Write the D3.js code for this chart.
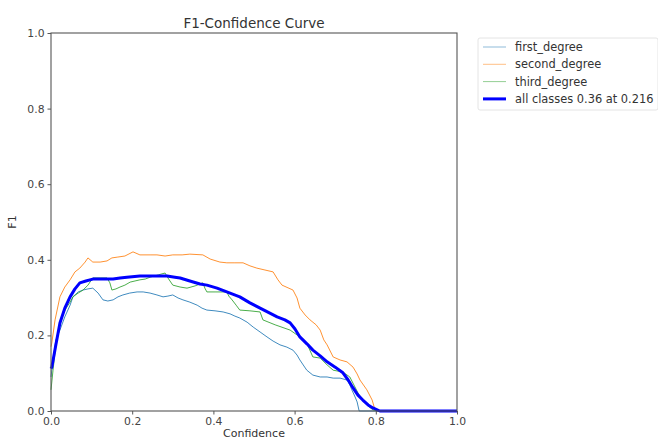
<!DOCTYPE html>
<html>
<head>
<meta charset="utf-8">
<script src="https://cdn.jsdelivr.net/npm/d3@7"></script>
<style>
  html, body { margin: 0; padding: 0; background: #fff; }
  svg { display: block; font-family: "DejaVu Sans", sans-serif; }
</style>
</head>
<body>
<svg id="chart" width="658" height="441"></svg>
<script>
// ---- Data ----
const seriesNames = ["first_degree", "second_degree", "third_degree"];
const allLabel = "all classes 0.36 at 0.216";
const xTicks = [0.0, 0.2, 0.4, 0.6, 0.8, 1.0];
const yTicks = [0.0, 0.2, 0.4, 0.6, 0.8, 1.0];

const firstX = [0, 0.005, 0.012, 0.022, 0.034, 0.047, 0.054, 0.067, 0.079, 0.091,
  0.103, 0.116, 0.128, 0.140, 0.153, 0.165, 0.177, 0.194, 0.212, 0.227,
  0.244, 0.261, 0.276, 0.288, 0.300, 0.313, 0.325, 0.342, 0.360, 0.372,
  0.384, 0.404, 0.424, 0.441, 0.453, 0.465, 0.483, 0.498, 0.515, 0.532,
  0.547, 0.564, 0.581, 0.596, 0.606, 0.613, 0.623, 0.630, 0.645, 0.663,
  0.680, 0.695, 0.712, 0.729, 0.736, 0.741, 0.749, 0.754, 0.759, 1.0];
const firstY = [0.090, 0.135, 0.188, 0.214, 0.249, 0.280, 0.302, 0.315, 0.320, 0.323,
  0.325, 0.312, 0.294, 0.291, 0.294, 0.302, 0.307, 0.312, 0.315, 0.315,
  0.312, 0.307, 0.302, 0.304, 0.307, 0.299, 0.294, 0.288, 0.280, 0.272,
  0.267, 0.265, 0.262, 0.257, 0.251, 0.246, 0.235, 0.222, 0.209, 0.196,
  0.185, 0.175, 0.169, 0.161, 0.148, 0.135, 0.119, 0.108, 0.095, 0.090,
  0.090, 0.087, 0.087, 0.082, 0.069, 0.056, 0.037, 0.024, 0.0, 0.0];

const secondX = [0.0, 0.002, 0.010, 0.022, 0.034, 0.047, 0.059, 0.071, 0.084, 0.091,
  0.103, 0.121, 0.138, 0.150, 0.163, 0.182, 0.202, 0.219, 0.244, 0.261,
  0.281, 0.300, 0.323, 0.342, 0.374, 0.392, 0.416, 0.433, 0.453, 0.473,
  0.490, 0.507, 0.527, 0.547, 0.559, 0.569, 0.596, 0.606, 0.613, 0.626,
  0.638, 0.653, 0.663, 0.672, 0.680, 0.695, 0.712, 0.729, 0.744, 0.754,
  0.761, 0.778, 0.791, 0.798, 0.810, 1.0];
const secondY = [0.170, 0.180, 0.241, 0.302, 0.328, 0.347, 0.368, 0.378, 0.394, 0.405,
  0.394, 0.394, 0.397, 0.405, 0.407, 0.410, 0.421, 0.413, 0.413, 0.413,
  0.410, 0.413, 0.413, 0.415, 0.413, 0.402, 0.394, 0.392, 0.392, 0.392,
  0.384, 0.378, 0.373, 0.368, 0.347, 0.333, 0.320, 0.299, 0.272, 0.254,
  0.241, 0.228, 0.214, 0.188, 0.175, 0.143, 0.135, 0.130, 0.116, 0.098,
  0.082, 0.056, 0.029, 0.003, 0.0, 0.0];

const thirdX = [0, 0.005, 0.012, 0.022, 0.032, 0.039, 0.047, 0.054, 0.067, 0.079,
  0.091, 0.103, 0.121, 0.138, 0.145, 0.150, 0.160, 0.170, 0.182, 0.195,
  0.207, 0.219, 0.232, 0.244, 0.264, 0.281, 0.288, 0.300, 0.318, 0.335,
  0.355, 0.374, 0.379, 0.384, 0.404, 0.433, 0.438, 0.446, 0.456, 0.465,
  0.490, 0.515, 0.522, 0.552, 0.589, 0.613, 0.631, 0.645, 0.663, 0.680,
  0.695, 0.719, 0.736, 0.746, 0.756, 0.768, 0.781, 0.793, 0.805, 1.0];
const thirdY = [0.056, 0.108, 0.175, 0.233, 0.262, 0.275, 0.288, 0.302, 0.312, 0.320,
  0.333, 0.352, 0.352, 0.352, 0.339, 0.320, 0.323, 0.328, 0.333, 0.341,
  0.344, 0.347, 0.349, 0.354, 0.360, 0.365, 0.352, 0.333, 0.328, 0.325,
  0.331, 0.339, 0.325, 0.315, 0.315, 0.315, 0.304, 0.294, 0.280, 0.267,
  0.265, 0.262, 0.241, 0.228, 0.214, 0.196, 0.177, 0.143, 0.140, 0.122,
  0.108, 0.103, 0.090, 0.069, 0.048, 0.029, 0.013, 0.003, 0.0, 0.0];

const allX = [0, 0.002, 0.012, 0.022, 0.034, 0.047, 0.059, 0.071, 0.086, 0.103,
  0.128, 0.153, 0.170, 0.187, 0.219, 0.256, 0.286, 0.305, 0.318, 0.342,
  0.367, 0.384, 0.409, 0.433, 0.465, 0.490, 0.515, 0.539, 0.557, 0.576,
  0.589, 0.601, 0.613, 0.631, 0.645, 0.663, 0.680, 0.700, 0.719, 0.732,
  0.744, 0.756, 0.768, 0.781, 0.793, 0.810, 1.0];
const allY = [0.112, 0.116, 0.175, 0.233, 0.272, 0.302, 0.323, 0.339, 0.344, 0.349,
  0.349, 0.349, 0.352, 0.354, 0.357, 0.357, 0.357, 0.354, 0.352, 0.344,
  0.336, 0.333, 0.325, 0.315, 0.302, 0.286, 0.272, 0.259, 0.249, 0.241,
  0.233, 0.217, 0.196, 0.177, 0.161, 0.146, 0.130, 0.116, 0.101, 0.082,
  0.061, 0.042, 0.029, 0.016, 0.008, 0.0, 0.0];

const seriesColors = ["#1f77b4", "#ff7f0e", "#2ca02c"];
const allColor = "#0000ff";

// ---- Layout ----
const svg = d3.select("#chart");
const mLeft = 51, mRight = 457, mTop = 33, mBottom = 411;
const x = d3.scaleLinear().domain([0, 1]).range([mLeft, mRight]);
const y = d3.scaleLinear().domain([0, 1]).range([mBottom, mTop]);

const line = d3.line().x(d => x(d[0])).y(d => y(d[1]));

const series = [
  d3.zip(firstX, firstY),
  d3.zip(secondX, secondY),
  d3.zip(thirdX, thirdY)
];

const plot = svg.append("g");
series.forEach((s, i) => {
  plot.append("path").datum(s)
    .attr("d", line)
    .attr("fill", "none")
    .attr("stroke", seriesColors[i])
    .attr("stroke-opacity", 0.85)
    .attr("stroke-width", 1)
    .attr("stroke-linejoin", "round");
});
plot.append("path").datum(d3.zip(allX, allY))
  .attr("d", line)
  .attr("fill", "none")
  .attr("stroke", allColor)
  .attr("stroke-width", 3)
  .attr("stroke-linejoin", "round");

// ---- Axes ----
const fmt = d3.format(".1f");
const xAxis = svg.append("g").attr("transform", `translate(0,${mBottom})`)
  .call(d3.axisBottom(x).tickValues(xTicks).tickFormat(fmt).tickSizeInner(3.5).tickSizeOuter(0).tickPadding(3));
const yAxis = svg.append("g").attr("transform", `translate(${mLeft},0)`)
  .call(d3.axisLeft(y).tickValues(yTicks).tickFormat(fmt).tickSizeInner(3.5).tickSizeOuter(0).tickPadding(3));
[xAxis, yAxis].forEach(a => {
  a.select(".domain").remove();
  a.selectAll("line").attr("stroke", "#444").attr("stroke-width", 0.9);
  a.selectAll("text").attr("fill", "#444").attr("font-size", "10.8px")
    .attr("font-family", "DejaVu Sans, sans-serif");
});

// frame
svg.append("rect")
  .attr("x", mLeft).attr("y", mTop)
  .attr("width", mRight - mLeft).attr("height", mBottom - mTop)
  .attr("fill", "none").attr("stroke", "#555").attr("stroke-width", 1.1);

// title and labels
svg.append("text").attr("x", (mLeft + mRight) / 2).attr("y", 27.5)
  .attr("text-anchor", "middle").attr("font-size", "13.5px").attr("fill", "#333")
  .text("F1-Confidence Curve");
svg.append("text").attr("x", (mLeft + mRight) / 2).attr("y", 437)
  .attr("text-anchor", "middle").attr("font-size", "11px").attr("fill", "#333")
  .text("Confidence");
svg.append("text")
  .attr("transform", `translate(16,${(mTop + mBottom) / 2}) rotate(-90)`)
  .attr("text-anchor", "middle").attr("font-size", "11.2px").attr("fill", "#333")
  .text("F1");

// ---- Legend ----
const legend = svg.append("g").attr("transform", "translate(478,38)");
legend.append("rect").attr("x", 0).attr("y", 0).attr("width", 180).attr("height", 72)
  .attr("rx", 2).attr("fill", "#fff").attr("stroke", "#ddd").attr("stroke-width", 0.8);
const legendItems = seriesNames.map((n, i) => ({ name: n, color: seriesColors[i], w: 1, op: 0.5 }))
  .concat([{ name: allLabel, color: allColor, w: 3, op: 1 }]);
legendItems.forEach((d, i) => {
  const yy = 9 + i * 17.3;
  legend.append("line").attr("x1", 5).attr("x2", 28).attr("y1", yy).attr("y2", yy)
    .attr("stroke", d.color).attr("stroke-width", d.w).attr("stroke-opacity", d.op);
  legend.append("text").attr("x", 37).attr("y", yy).attr("dy", "0.35em")
    .attr("font-size", "11.4px").attr("fill", "#333").text(d.name);
});
</script>
</body>
</html>
